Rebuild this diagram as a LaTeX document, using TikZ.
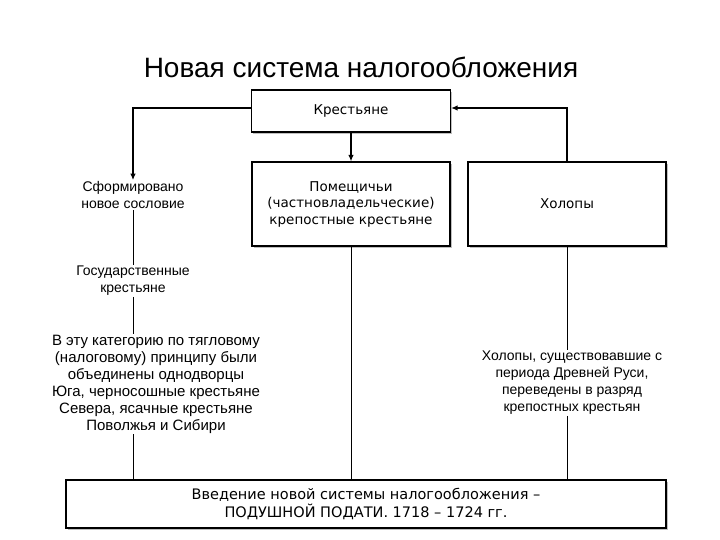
\documentclass[tikz,border=0pt]{standalone}
\usepackage{fontspec}
\setmainfont{Liberation Sans}
\newfontfamily\boxfont{DejaVu Sans}
\usetikzlibrary{arrows.meta,shadows}
\begin{document}
\begin{tikzpicture}[x=1pt,y=-1pt,
  box/.style={draw,line width=1.1pt,fill=white,
    drop shadow={shadow xshift=1.8pt,shadow yshift=-1.8pt,fill=gray!50,opacity=1},
    inner sep=0pt,align=center,font=\boxfont\fontsize{13.5}{16.5}\selectfont},
  txt/.style={align=center,inner sep=1pt,font=\fontsize{14}{17}\selectfont},
  ln/.style={line width=0.9pt},
  arr/.style={line width=2pt,-{Latex[length=6.5pt,width=5.5pt]}}]
\useasboundingbox[fill=white] (0,0) rectangle (720,540);

\node[font=\fontsize{28}{32}\selectfont] (title) at (361,67) {Новая система налогообложения};

\node[box,minimum width=199pt,minimum height=42pt] (kr) at (351,111) {Крестьяне};
\node[box,minimum width=198pt,minimum height=84pt] (pom) at (351,204)
  {Помещичьи\\(частновладельческие)\\крепостные крестьяне};
\node[box,minimum width=198pt,minimum height=84pt] (hol) at (567,204) {Холопы};
\node[box,minimum width=600pt,minimum height=48pt,font=\boxfont\fontsize{14.5}{18}\selectfont] (bot) at (366,504)
  {Введение новой системы налогообложения –\\ПОДУШНОЙ ПОДАТИ. 1718 – 1724 гг.};

\node[txt] (sf) at (133,195) {Сформировано\\новое сословие};
\node[txt] (gos) at (133,281) {Государственные\\крестьяне};
\node[txt,font=\fontsize{15}{17}\selectfont] (cat) at (156,384) {В эту категорию по тягловому\\(налоговому) принципу были\\объединены однодворцы\\Юга, черносошные крестьяне\\Севера, ясачные крестьяне\\Поволжья и Сибири};
\node[txt] (htx) at (572,383) {Холопы, существовавшие с\\периода Древней Руси,\\переведены в разряд\\крепостных крестьян};

\draw[arr] ([yshift=3pt]kr.west) -| (sf.north);
\draw[arr] (hol.north) |- ([yshift=3pt]kr.east);
\draw[arr] (kr.south) -- (pom.north);

\draw[ln] (sf.south) -- (gos.north);
\draw[ln] (gos.south) -- (gos.south |- cat.north);
\draw[ln] (cat.south -| gos.south) -- (gos.south |- bot.north);
\draw[ln] (pom.south) -- (pom.south |- bot.north);
\draw[ln] (hol.south) -- (hol.south |- htx.north);
\draw[ln] (htx.south -| hol.south) -- (hol.south |- bot.north);
\end{tikzpicture}
\end{document}
